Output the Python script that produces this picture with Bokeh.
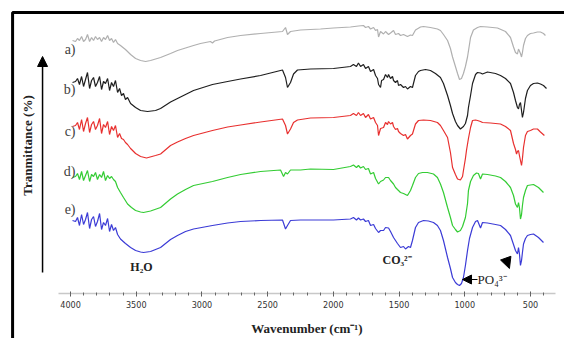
import math
from bokeh.plotting import figure
from bokeh.models import (Range1d, LinearAxis, SingleIntervalTicker, Label, Arrow,
                          NormalHead, BoxAnnotation)
from bokeh.embed import file_html
from bokeh.resources import INLINE

# ---------------- data (wavenumber cm-1, offset transmittance a.u.) ----------------
NOISE_WN = [3985, 3962, 3947, 3932, 3916, 3901, 3886, 3871, 3855, 3840, 3825,
            3810, 3795, 3779, 3764, 3749, 3734, 3718, 3703, 3688, 3673, 3658]

A_NOISE = [253, 252, 255, 253, 257, 252, 254, 259, 252, 256, 253, 257, 254, 256, 252, 256, 254, 258, 253, 255, 251, 254]
B_NOISE = [211, 212, 215, 209, 217, 207, 214, 221, 205, 213, 216, 207, 211, 217, 204, 212, 210, 215, 203, 211, 207, 213]
C_NOISE = [167, 168, 171, 164, 174, 162, 170, 176, 161, 169, 172, 164, 168, 175, 160, 169, 166, 172, 159, 167, 163, 168]
D_NOISE = [116, 117, 120, 114, 122, 113, 118, 123, 112, 119, 117, 121, 114, 119, 116, 122, 113, 118, 115, 117, 114, 112]
E_NOISE = [73, 72, 76, 68, 79, 69, 74, 81, 65, 74, 77, 67, 72, 80, 64, 71, 68, 75, 62, 69, 63, 66]

A_BAND = [(3642, 250), (3620, 248), (3582, 244), (3543, 239), (3505, 235), (3467, 233), (3429, 232),
          (3391, 233), (3315, 236), (3239, 240), (3186, 243), (3125, 245.5), (3064, 248), (3011, 250),
          (2935, 252), (2920, 250.5), (2904, 252.5), (2805, 256), (2706, 258), (2554, 260), (2387, 262),
          (2364, 266), (2349, 259), (2326, 262), (2250, 263.5), (2098, 264.5), (1999, 265.5), (1870, 266.5),
          (1809, 267.5), (1771, 268), (1755, 266), (1733, 267), (1717, 264.5), (1694, 266), (1679, 263),
          (1664, 264), (1656, 256.5), (1641, 262), (1618, 259.5), (1603, 262), (1580, 259), (1565, 260.5),
          (1542, 263), (1527, 259), (1504, 260), (1489, 258), (1466, 259), (1436, 257), (1413, 258.5),
          (1398, 258), (1375, 263.5), (1337, 266.5), (1314, 267), (1261, 266), (1208, 264.5), (1185, 263),
          (1162, 259), (1131, 253), (1109, 245), (1093, 236.5), (1071, 227), (1055, 220), (1040, 214),
          (1025, 215), (1010, 220), (995, 227), (979, 236.5), (956, 256), (934, 263.5), (903, 266),
          (880, 267), (827, 266.5), (751, 265.5), (690, 262), (652, 256), (629, 246.5), (614, 241),
          (599, 239.5), (591, 244.5), (576, 240), (568, 236.5), (561, 241), (553, 248), (538, 255),
          (523, 258), (500, 260), (477, 260.5), (447, 261.5), (424, 261.5), (401, 260), (386, 258)]

B_BAND = [(3642, 201), (3627, 205), (3612, 198), (3597, 200), (3582, 194), (3566, 196), (3543, 190),
          (3505, 186), (3467, 183), (3414, 182), (3353, 183), (3315, 185), (3239, 191.5), (3186, 195),
          (3125, 199), (3064, 203), (2920, 209), (2805, 212), (2706, 214.5), (2554, 218), (2387, 223.5),
          (2364, 216), (2349, 206), (2326, 211), (2303, 219.5), (2273, 223.5), (2174, 224.5), (1999, 225),
          (1870, 227), (1847, 229), (1824, 227), (1809, 230.5), (1793, 227), (1771, 229), (1755, 225),
          (1733, 227), (1717, 222), (1694, 224), (1679, 218), (1664, 215), (1656, 209), (1641, 206),
          (1633, 213), (1618, 214), (1603, 219), (1588, 216), (1580, 219), (1565, 215), (1550, 217),
          (1542, 213), (1527, 211), (1512, 213), (1504, 208), (1489, 209), (1466, 206), (1451, 207),
          (1436, 204.5), (1413, 207), (1398, 206), (1375, 218), (1352, 222), (1337, 223), (1299, 224),
          (1261, 223), (1223, 220), (1185, 216), (1162, 210), (1131, 198), (1109, 188), (1093, 180),
          (1071, 172), (1055, 168), (1033, 164.5), (1010, 167), (995, 170), (979, 178), (972, 186),
          (956, 198), (941, 210), (918, 219), (903, 221), (880, 220.5), (865, 219.5), (827, 221.5),
          (766, 220), (728, 218), (690, 215), (652, 210), (629, 201), (614, 193), (599, 186),
          (591, 184.5), (584, 189), (576, 191), (568, 183), (561, 176), (553, 181), (538, 195),
          (523, 203), (500, 208), (477, 210), (447, 210.5), (424, 209.5), (401, 208), (378, 205)]

C_BAND = [(3642, 156), (3627, 160), (3612, 155), (3597, 154), (3582, 151), (3566, 149), (3543, 145),
          (3505, 140), (3467, 137), (3422, 135.5), (3353, 138), (3315, 139.5), (3239, 148), (3186, 151.5),
          (3125, 155), (3064, 158), (2920, 163), (2805, 166.5), (2706, 168.5), (2554, 171.5), (2387, 174.5),
          (2364, 168), (2349, 159.5), (2326, 164.5), (2303, 171), (2273, 173.5), (2174, 175.5), (1999, 176),
          (1870, 178), (1847, 180), (1824, 178), (1809, 181), (1793, 178), (1771, 180), (1755, 176),
          (1733, 179), (1717, 174.5), (1694, 176), (1679, 171), (1664, 168), (1656, 158), (1641, 165),
          (1618, 166), (1603, 171), (1588, 169), (1580, 172), (1565, 169.5), (1550, 171), (1542, 167),
          (1527, 164), (1512, 165), (1504, 162), (1489, 160), (1466, 158), (1451, 159), (1436, 154.5),
          (1413, 158), (1398, 159.5), (1375, 169.5), (1352, 173), (1314, 173.5), (1261, 173), (1208, 171),
          (1185, 168), (1162, 163), (1131, 156), (1109, 141), (1093, 126), (1071, 119), (1055, 114.5),
          (1033, 113.5), (1017, 117), (1010, 123), (995, 135), (987, 143), (972, 155), (956, 166),
          (941, 173), (918, 173.5), (903, 173), (880, 172), (865, 171), (804, 170.5), (728, 169.5),
          (690, 167), (652, 163), (629, 150), (614, 144), (606, 139.5), (599, 142), (591, 143),
          (584, 138), (576, 133), (568, 128), (561, 135), (553, 146), (538, 158), (523, 162), (500, 163),
          (477, 164.5), (447, 164.5), (424, 161.5), (394, 158)]

D_BAND = [(3642, 106), (3620, 101), (3597, 96), (3566, 89.5), (3536, 86), (3505, 83), (3467, 81.5),
          (3445, 81), (3391, 82.5), (3315, 86), (3239, 94.5), (3186, 99.5), (3125, 104), (3064, 108),
          (2920, 112), (2805, 116), (2706, 119), (2554, 122), (2402, 123.5), (2379, 117), (2364, 121),
          (2349, 119.5), (2326, 123.5), (2250, 123.5), (2174, 124.5), (1999, 124), (1870, 127),
          (1847, 128.5), (1824, 126), (1809, 128), (1793, 125.5), (1771, 127), (1755, 124), (1733, 125),
          (1717, 119.5), (1694, 121), (1679, 115), (1656, 109.5), (1641, 112), (1618, 113.5), (1603, 116),
          (1580, 116), (1565, 113), (1542, 109.5), (1527, 106), (1512, 104), (1489, 101), (1466, 100),
          (1451, 99), (1436, 98), (1413, 103), (1398, 108), (1375, 116), (1352, 120), (1322, 121),
          (1284, 121), (1238, 119.5), (1208, 116), (1185, 109.5), (1162, 101), (1131, 86), (1109, 76),
          (1093, 68), (1071, 64), (1055, 61.5), (1033, 63), (1017, 67), (995, 76), (979, 90), (972, 103),
          (956, 112), (934, 118), (911, 120.5), (896, 120), (880, 114.5), (865, 119.5), (827, 119),
          (766, 117.5), (728, 116), (690, 112), (652, 106), (629, 98), (614, 89.5), (599, 86), (591, 91),
          (584, 86), (576, 74.5), (568, 79), (561, 88), (553, 96), (538, 103), (523, 108), (500, 108.5),
          (477, 109), (439, 106), (401, 101)]

E_BAND = [(3642, 59), (3620, 54.5), (3582, 50), (3543, 46), (3505, 43), (3467, 41.5), (3445, 41),
          (3391, 42), (3315, 46), (3239, 54), (3186, 58), (3125, 62), (3064, 64.5), (2920, 68),
          (2805, 70.5), (2706, 72), (2554, 73), (2387, 73.5), (2364, 64.5), (2349, 68), (2326, 73),
          (2250, 73.5), (2174, 73.5), (1999, 73.5), (1870, 74.5), (1847, 76), (1824, 73.5), (1809, 75.5),
          (1793, 73.5), (1771, 74.5), (1755, 72), (1733, 73), (1717, 68), (1694, 69), (1679, 65),
          (1656, 61), (1641, 63), (1618, 63), (1603, 66), (1580, 65.5), (1565, 62), (1542, 56), (1527, 53),
          (1512, 50), (1489, 46), (1466, 47), (1451, 44.5), (1428, 47), (1413, 46), (1398, 53), (1375, 66),
          (1352, 71), (1314, 73), (1276, 72.5), (1238, 71), (1208, 68), (1185, 63), (1162, 53), (1131, 36),
          (1109, 25), (1093, 16), (1071, 11), (1055, 9), (1040, 8), (1025, 10), (1010, 16), (995, 28),
          (979, 43), (964, 55), (941, 66), (918, 72), (903, 73), (880, 65.5), (865, 71), (827, 70.5),
          (766, 69), (728, 68), (690, 64), (652, 58), (629, 49), (614, 43), (599, 39.5), (591, 46),
          (584, 40), (576, 28), (568, 33), (561, 41), (553, 49.5), (538, 55), (523, 58), (500, 59),
          (477, 59.5), (439, 56), (401, 51)]

SERIES_NAMES = ["a)", "b)", "c)", "d)", "e)"]
SERIES_NOISE = [A_NOISE, B_NOISE, C_NOISE, D_NOISE, E_NOISE]
SERIES_BAND = [A_BAND, B_BAND, C_BAND, D_BAND, E_BAND]
COLORS = ["#b0b0b0", "#1e1e1e", "#e8302f", "#33cc33", "#3b3bd6"]
NAME_Y = [244, 204, 162, 122, 84]
TICK_INTERVAL = 500

SERIF = "Liberation Serif"

p = figure(width=564, height=338, output_backend="svg", toolbar_location=None,
           x_range=Range1d(4533, 241), y_range=Range1d(-45, 293),
           x_axis_location=None, y_axis_location=None, min_border=0)
p.title.visible = False
p.outline_line_color = None
p.background_fill_color = "white"
p.border_fill_color = "white"
p.xgrid.visible = False
p.ygrid.visible = False
for g in p.grid:
    g.visible = False

for noise, band, color in zip(SERIES_NOISE, SERIES_BAND, COLORS):
    xs = NOISE_WN + [w for w, _ in band]
    ys = noise + [t for _, t in band]
    p.line(xs, ys, line_color=color, line_width=1.2)

xaxis = LinearAxis(fixed_location=0, bounds=(310, 4091),
                   ticker=SingleIntervalTicker(interval=TICK_INTERVAL, num_minor_ticks=5),
                   axis_label="Wavenumber (cm\u207b\u00b9)")
xaxis.axis_line_color = "#c8c8c8"
xaxis.axis_line_width = 1.5
xaxis.major_tick_line_color = "#555555"
xaxis.minor_tick_line_color = "#666666"
xaxis.major_tick_in = 2
xaxis.major_tick_out = 3
xaxis.minor_tick_in = 1
xaxis.minor_tick_out = 2
xaxis.major_label_standoff = 4
xaxis.major_label_text_font = "Liberation Sans Narrow, DejaVu Sans Condensed, sans-serif"
xaxis.major_label_text_font_size = "9px"
xaxis.major_label_text_color = "#333333"
xaxis.axis_label_text_font = SERIF
xaxis.axis_label_text_font_style = "bold"
xaxis.axis_label_text_font_size = "13px"
xaxis.axis_label_text_color = "#222222"
xaxis.axis_label_standoff = 10
p.add_layout(xaxis, "below")

# outer frame (top and left edges visible)
p.add_layout(BoxAnnotation(left=4441, right=-500, top=281, bottom=-200,
                           fill_alpha=0, line_color="black", line_alpha=1, line_width=3))

for name, ny in zip(SERIES_NAMES, NAME_Y):
    p.add_layout(Label(x=3962, y=ny, text=name, text_align="right", text_baseline="middle",
                       text_font=SERIF, text_font_size="14px", text_color="#404040"))

p.add_layout(Label(x=3460, y=27, text="H\u2082O", text_align="center", text_baseline="middle",
                   text_font=SERIF, text_font_style="bold", text_font_size="12px", text_color="#222222"))
p.add_layout(Label(x=1626, y=34, text="CO\u2083\u00b2\u207b", text_align="left", text_baseline="middle",
                   text_font=SERIF, text_font_style="bold", text_font_size="12px", text_color="#222222"))
p.add_layout(Label(x=903, y=14, text="PO\u2084\u00b3\u207b", text_align="left", text_baseline="middle",
                   text_font=SERIF, text_font_size="13px", text_color="#222222"))
p.add_layout(Arrow(end=NormalHead(size=9, fill_color="black", line_color="black"),
                   x_start=903, y_start=14, x_end=1017, y_end=14, line_color="black", line_width=1.2))
p.add_layout(Arrow(end=NormalHead(size=11, fill_color="black", line_color="black"),
                   x_start=690, y_start=36, x_end=660, y_end=25, line_alpha=0))

# y direction arrow and title
p.add_layout(Arrow(end=NormalHead(size=10, fill_color="black", line_color="black"),
                   x_start=4213, y_start=21, x_end=4213, y_end=237, line_color="black", line_width=1.5))
p.add_layout(Label(x=4327, y=148, text="Tranmittance (%)", angle=math.pi / 2,
                   text_align="center", text_baseline="middle",
                   text_font=SERIF, text_font_style="bold", text_font_size="13px", text_color="#222222"))

open("out.html", "w").write(file_html(p, INLINE))
